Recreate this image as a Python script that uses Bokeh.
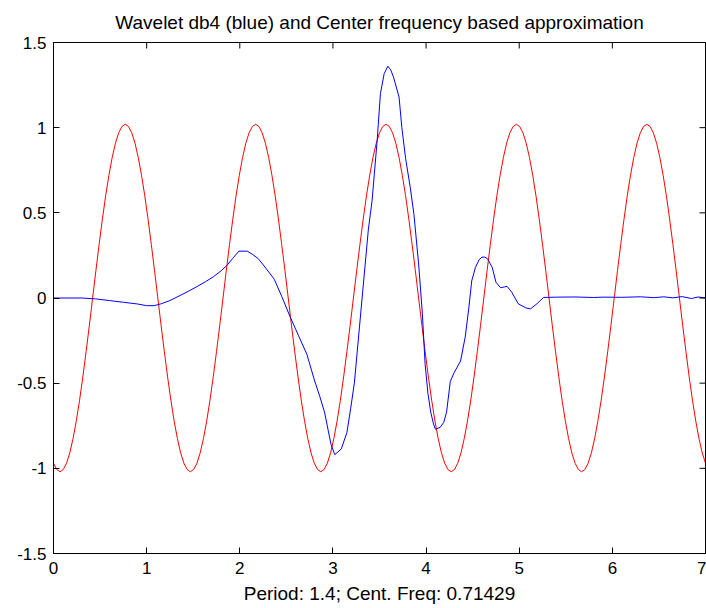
import math
from bokeh.plotting import figure
from bokeh.models import FixedTicker, Range1d
from bokeh.embed import file_html
from bokeh.resources import INLINE

title_text = "Wavelet db4 (blue) and Center frequency based approximation"
xlabel_text = "Period: 1.4; Cent. Freq: 0.71429"

x_min, x_max = 0, 7
y_min, y_max = -1.5, 1.5
x_ticks = [0, 1, 2, 3, 4, 5, 6, 7]
y_ticks = [-1.5, -1.0, -0.5, 0.0, 0.5, 1.0, 1.5]
y_tick_labels = ["-1.5", "-1", "-0.5", "0", "0.5", "1", "1.5"]

# blue: db4 wavelet
blue_x = [0.00, 0.30, 0.45, 0.60, 0.75, 0.90, 1.00, 1.08, 1.15, 1.25, 1.36, 1.45, 1.54,
          1.63, 1.72, 1.80, 1.86, 1.92, 1.99, 2.08, 2.14, 2.20, 2.28, 2.37, 2.45, 2.54,
          2.63, 2.72, 2.80, 2.86, 2.91, 2.95, 2.98, 3.02, 3.09, 3.15, 3.19, 3.23, 3.28,
          3.33, 3.38, 3.42, 3.475, 3.51, 3.55, 3.59, 3.62, 3.65, 3.71, 3.74, 3.78, 3.83,
          3.87, 3.92, 3.96, 3.99, 4.02, 4.05, 4.08, 4.10, 4.15, 4.19, 4.22, 4.26, 4.30,
          4.37, 4.42, 4.46, 4.49, 4.53, 4.57, 4.60, 4.63, 4.66, 4.71, 4.75, 4.80, 4.84,
          4.87, 4.92, 4.99, 5.07, 5.12, 5.19, 5.26, 5.40, 5.60, 5.80, 5.90, 6.10, 6.30,
          6.45, 6.55, 6.65, 6.75, 6.85, 6.92, 7.00]
blue_y = [0.000, 0.000, -0.005, -0.015, -0.025, -0.035, -0.045, -0.045, -0.035, -0.015,
          0.015, 0.040, 0.067, 0.095, 0.126, 0.160, 0.190, 0.230, 0.275, 0.275, 0.255,
          0.230, 0.175, 0.110, 0.010, -0.110, -0.220, -0.330, -0.480, -0.580, -0.670,
          -0.780, -0.860, -0.920, -0.886, -0.790, -0.650, -0.500, -0.200, 0.100, 0.400,
          0.570, 0.925, 1.200, 1.317, 1.361, 1.340, 1.297, 1.180, 1.000, 0.820, 0.650,
          0.490, 0.200, -0.090, -0.390, -0.560, -0.670, -0.740, -0.770, -0.760, -0.730,
          -0.670, -0.490, -0.440, -0.370, -0.230, -0.054, 0.100, 0.180, 0.225, 0.240,
          0.240, 0.230, 0.180, 0.093, 0.060, 0.065, 0.068, 0.034, -0.034, -0.058, -0.064,
          -0.034, 0.003, 0.005, 0.006, 0.003, 0.005, 0.004, 0.007, 0.002, 0.007, 0.001,
          0.008, -0.003, 0.006, 0.000]

# red: centre-frequency approximation, sampled every 0.035 from 0 to 7
red_x = [round(0.035 * i, 3) for i in range(201)]
red_y = [
    -0.970, -1.007, -1.020, -1.007, -0.970, -0.909, -0.825, -0.721, -0.600, -0.463,
    -0.315, -0.160, 0.000, 0.160, 0.315, 0.463, 0.600, 0.721, 0.825, 0.909,
    0.970, 1.007, 1.020, 1.007, 0.970, 0.909, 0.825, 0.721, 0.600, 0.463,
    0.315, 0.160, 0.000, -0.160, -0.315, -0.463, -0.600, -0.721, -0.825, -0.909,
    -0.970, -1.007, -1.020, -1.007, -0.970, -0.909, -0.825, -0.721, -0.600, -0.463,
    -0.315, -0.160, 0.000, 0.160, 0.315, 0.463, 0.600, 0.721, 0.825, 0.909,
    0.970, 1.007, 1.020, 1.007, 0.970, 0.909, 0.825, 0.721, 0.600, 0.463,
    0.315, 0.160, 0.000, -0.160, -0.315, -0.463, -0.600, -0.721, -0.825, -0.909,
    -0.970, -1.007, -1.020, -1.007, -0.970, -0.909, -0.825, -0.721, -0.600, -0.463,
    -0.315, -0.160, 0.000, 0.160, 0.315, 0.463, 0.600, 0.721, 0.825, 0.909,
    0.970, 1.007, 1.020, 1.007, 0.970, 0.909, 0.825, 0.721, 0.600, 0.463,
    0.315, 0.160, 0.000, -0.160, -0.315, -0.463, -0.600, -0.721, -0.825, -0.909,
    -0.970, -1.007, -1.020, -1.007, -0.970, -0.909, -0.825, -0.721, -0.600, -0.463,
    -0.315, -0.160, 0.000, 0.160, 0.315, 0.463, 0.600, 0.721, 0.825, 0.909,
    0.970, 1.007, 1.020, 1.007, 0.970, 0.909, 0.825, 0.721, 0.600, 0.463,
    0.315, 0.160, 0.000, -0.160, -0.315, -0.463, -0.600, -0.721, -0.825, -0.909,
    -0.970, -1.007, -1.020, -1.007, -0.970, -0.909, -0.825, -0.721, -0.600, -0.463,
    -0.315, -0.160, 0.000, 0.160, 0.315, 0.463, 0.600, 0.721, 0.825, 0.909,
    0.970, 1.007, 1.020, 1.007, 0.970, 0.909, 0.825, 0.721, 0.600, 0.463,
    0.315, 0.160, 0.000, -0.160, -0.315, -0.463, -0.600, -0.721, -0.825, -0.909,
    -0.970,
]

FONT = "Liberation Sans"
TICK_FS = "17px"
TEXT_FS = "19px"

p = figure(width=706, height=608, output_backend="svg", toolbar_location=None,
           x_range=Range1d(x_min, x_max), y_range=Range1d(y_min, y_max),
           min_border_left=53, min_border_right=1, min_border_top=42, min_border_bottom=55)
p.title.text = title_text
p.title.align = "center"
p.title.text_font = FONT
p.title.text_font_size = TEXT_FS
p.title.text_font_style = "normal"
p.title.text_color = "black"
p.title.standoff = 19

p.xgrid.visible = False
p.ygrid.visible = False
p.outline_line_color = "black"
p.outline_line_width = 1
p.background_fill_color = "white"
p.border_fill_color = "white"

p.line(red_x, red_y, line_color="#ff0000", line_width=1)
p.line(blue_x, blue_y, line_color="#0000ff", line_width=1)

# mirrored inward ticks on the top and right edges of the box
p.ray(x=x_ticks, y=[y_max] * len(x_ticks), length=6, length_units="screen",
      angle=-math.pi / 2, line_color="black", line_width=1)
p.ray(x=[x_max] * len(y_ticks), y=y_ticks, length=6, length_units="screen",
      angle=math.pi, line_color="black", line_width=1)

def style(ax):
    ax.major_tick_in = 6
    ax.major_tick_out = 0
    ax.minor_tick_line_color = None
    ax.axis_line_color = "black"
    ax.major_tick_line_color = "black"
    ax.major_label_text_font = FONT
    ax.major_label_text_font_size = TICK_FS
    ax.major_label_text_color = "black"

xa = p.xaxis[0]
xa.ticker = FixedTicker(ticks=x_ticks)
xa.major_label_overrides = {t: str(t) for t in x_ticks}
style(xa)
xa.major_label_standoff = 8
xa.axis_label = xlabel_text
xa.axis_label_text_font = FONT
xa.axis_label_text_font_size = TEXT_FS
xa.axis_label_text_font_style = "normal"
xa.axis_label_text_color = "black"
xa.axis_label_standoff = 6

ya = p.yaxis[0]
ya.ticker = FixedTicker(ticks=y_ticks)
ya.major_label_overrides = {t: s for t, s in zip(y_ticks, y_tick_labels)}
style(ya)
ya.major_label_standoff = 7

open("out.html", "w").write(file_html(p, INLINE))
